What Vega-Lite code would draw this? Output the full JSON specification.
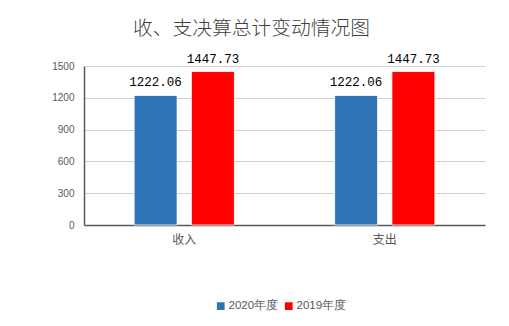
{
  "$schema": "https://vega.github.io/schema/vega-lite/v6.json",
  "autosize": "none",
  "width": 401,
  "height": 159,
  "padding": {"left": 84, "top": 66, "right": 24, "bottom": 101},
  "background": "white",
  "config": {"view": {"stroke": null}},
  "title": {
    "text": "收、支决算总计变动情况图",
    "font": "Noto Sans CJK SC",
    "fontSize": 19.75,
    "fontWeight": 300,
    "color": "#404040",
    "anchor": "middle",
    "dx": -33,
    "offset": 14
  },
  "data": {
    "values": [
      {"cat": "收入", "year": "2020年度", "value": 1222.06},
      {"cat": "收入", "year": "2019年度", "value": 1447.73},
      {"cat": "支出", "year": "2020年度", "value": 1222.06},
      {"cat": "支出", "year": "2019年度", "value": 1447.73}
    ]
  },
  "encoding": {
    "x": {
      "field": "cat",
      "type": "nominal",
      "sort": ["收入", "支出"],
      "scale": {"paddingInner": 0.5, "paddingOuter": 0.25},
      "axis": {
        "title": null,
        "labelAngle": 0,
        "labelFont": "Noto Sans CJK SC",
        "labelFontSize": 12,
        "labelColor": "#595959",
        "labelPadding": 9,
        "ticks": false,
        "domainColor": "#595959",
        "domainWidth": 1.5
      }
    },
    "xOffset": {
      "field": "year",
      "type": "nominal",
      "sort": ["2020年度", "2019年度"],
      "scale": {"paddingInner": 0.25, "paddingOuter": 0}
    },
    "y": {
      "field": "value",
      "type": "quantitative",
      "scale": {"domain": [0, 1500]},
      "axis": {
        "title": null,
        "values": [0, 300, 600, 900, 1200, 1500],
        "format": "d",
        "labelFont": "Liberation Sans",
        "labelFontSize": 10,
        "labelColor": "#595959",
        "labelPadding": 10,
        "ticks": false,
        "domainColor": "#595959",
        "domainWidth": 1.5,
        "gridColor": "#d0d0d0",
        "gridWidth": 1
      }
    }
  },
  "layer": [
    {
      "mark": {"type": "bar", "stroke": "white", "strokeWidth": 0.8},
      "encoding": {
        "color": {
          "field": "year",
          "type": "nominal",
          "sort": ["2020年度", "2019年度"],
          "scale": {"domain": ["2020年度", "2019年度"], "range": ["#2e75b6", "#ff0000"]},
          "legend": {
            "title": null,
            "orient": "none",
            "legendX": 131,
            "legendY": 234,
            "direction": "horizontal",
            "symbolType": "square",
            "symbolSize": 60,
            "symbolStrokeWidth": 0,
            "labelFont": "Liberation Sans",
            "labelFontSize": 11.5,
            "labelColor": "#595959",
            "labelOffset": 2,
            "columnPadding": 4
          }
        }
      }
    },
    {
      "mark": {
        "type": "text",
        "baseline": "bottom",
        "dy": -6,
        "font": "Liberation Mono",
        "fontSize": 12.5,
        "color": "#000000"
      },
      "encoding": {
        "text": {"field": "value", "type": "quantitative", "format": ".2f"}
      }
    }
  ]
}
